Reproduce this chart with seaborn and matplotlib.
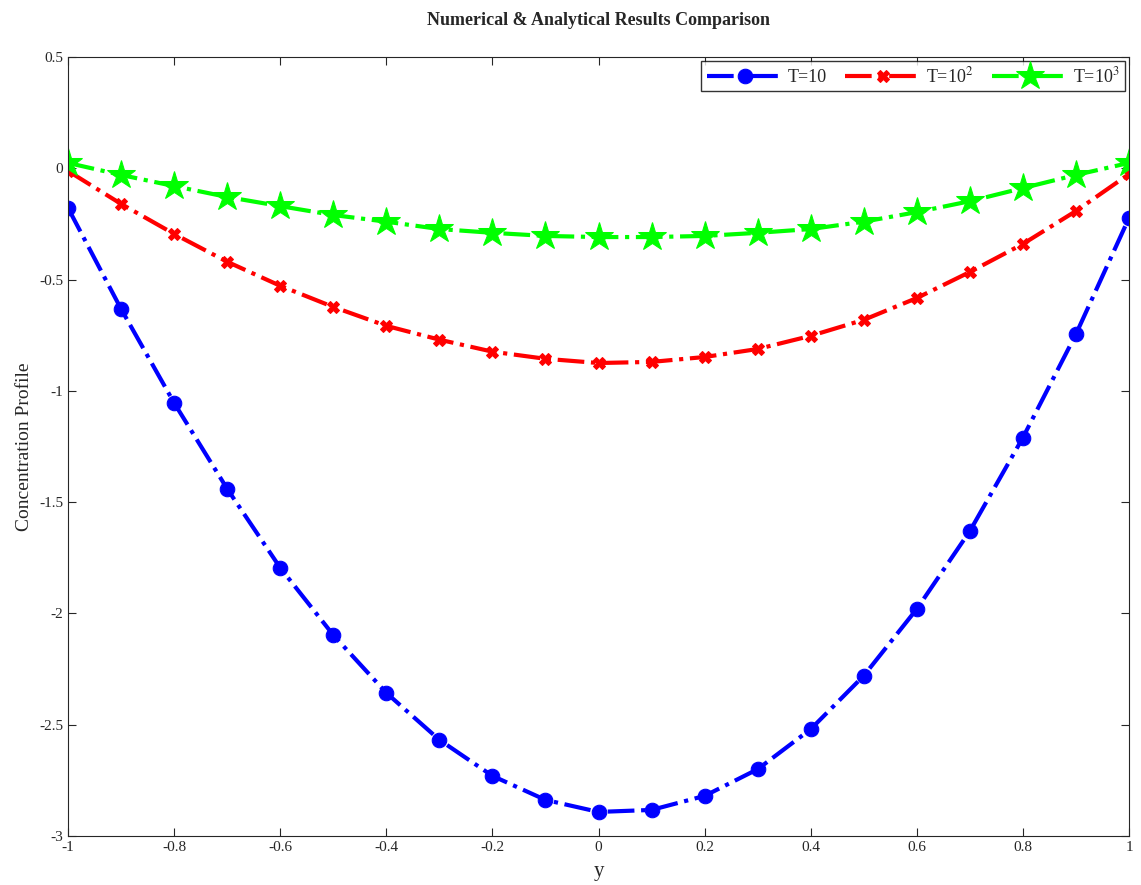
import numpy as np
import pandas as pd
import matplotlib
matplotlib.use("Agg")
import matplotlib.pyplot as plt
import seaborn as sns
from matplotlib.ticker import FuncFormatter

y_pos = [-1.0, -0.9, -0.8, -0.7, -0.6, -0.5, -0.4, -0.3, -0.2, -0.1, 0.0,
         0.1, 0.2, 0.3, 0.4, 0.5, 0.6, 0.7, 0.8, 0.9, 1.0]
t10 = [-0.178, -0.632, -1.054, -1.44, -1.795, -2.097, -2.357, -2.568, -2.73, -2.838, -2.892,
       -2.883, -2.82, -2.70, -2.52, -2.28, -1.98, -1.63, -1.21, -0.745, -0.223]
t100 = [-0.012, -0.16, -0.295, -0.42, -0.528, -0.623, -0.708, -0.77, -0.824, -0.856, -0.875,
        -0.87, -0.848, -0.812, -0.753, -0.681, -0.583, -0.466, -0.34, -0.192, -0.026]
t1000 = [0.024, -0.03, -0.08, -0.129, -0.17, -0.21, -0.24, -0.273, -0.29, -0.304, -0.309,
         -0.309, -0.304, -0.29, -0.273, -0.24, -0.197, -0.148, -0.089, -0.03, 0.024]
labels = ["T=10", "T=10$^2$", "T=10$^3$"]

sns.set_theme(style="ticks")
plt.rcParams['font.family'] = ['Liberation Serif', 'DejaVu Serif']
plt.rcParams['mathtext.fontset'] = 'stix'

fig = plt.figure(figsize=(11.41, 8.85), dpi=100)
ax = fig.add_axes([0.0596, 0.0554, 0.9299, 0.8802])

series = [
    (t10, labels[0], "#0000ff", "o", 10.5),
    (t100, labels[1], "#ff0000", "X", 8.5),
    (t1000, labels[2], "#00ff00", "*", 21),
]
for vals, lab, col, mk, ms in series:
    df = pd.DataFrame({"y": y_pos, "c": vals})
    sns.lineplot(data=df, x="y", y="c", ax=ax, color=col, linestyle="-.",
                 linewidth=3.0, marker=mk, markersize=ms, markeredgecolor=col,
                 markerfacecolor=col, label=lab)

ax.set_xlim(-1, 1)
ax.set_ylim(-3, 0.5)
ax.set_xticks(np.arange(-1, 1.01, 0.2))
ax.set_yticks(np.arange(-3, 0.51, 0.5))

def fmt(v, pos):
    s = "%g" % round(v, 2)
    if s == "-0":
        s = "0"
    return s.replace("\u2212", "-")
ax.xaxis.set_major_formatter(FuncFormatter(fmt))
ax.yaxis.set_major_formatter(FuncFormatter(fmt))

ax.tick_params(direction="in", top=True, right=True, length=6, width=0.8,
               labelsize=11, colors="#262626")
for sp in ax.spines.values():
    sp.set_color("#262626")
    sp.set_linewidth(0.8)

ax.set_xlabel("y", fontsize=15, labelpad=6)
ax.set_ylabel("Concentration Profile", fontsize=14, labelpad=4)
ax.set_title("Numerical & Analytical Results Comparison", fontsize=13,
             fontweight="bold", pad=23)

leg = ax.legend(loc="upper right", ncol=3, frameon=True, fancybox=False,
                edgecolor="black", fontsize=13, borderaxespad=0.2,
                handlelength=4.2, columnspacing=1.0, handletextpad=0.3,
                borderpad=0.3)
leg.get_frame().set_linewidth(1.0)

fig.savefig("out.png", dpi=100)
